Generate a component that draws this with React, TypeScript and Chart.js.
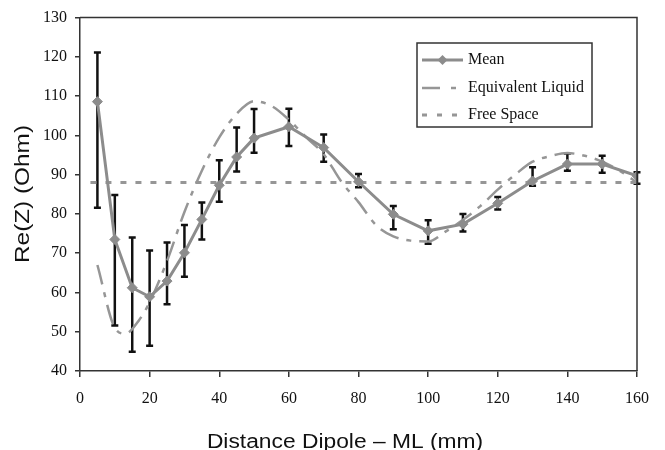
import React, { useEffect, useRef } from "react";
import { Chart, registerables } from "chart.js";

Chart.register(...registerables);

const distances = [5, 10, 15, 20, 25, 30, 35, 40, 45, 50, 60, 70, 80, 90, 100, 110, 120, 130, 140, 150, 160];
const meanValues = [108.6, 73.5, 61.2, 58.9, 62.9, 70.1, 78.6, 87.3, 94.5, 99.3, 102.2, 96.9, 88.2, 79.9, 75.7, 77.4, 82.7, 88.4, 92.7, 92.7, 89.7];
const errorHigh = [121.1, 84.8, 74.0, 70.7, 72.7, 77.2, 82.9, 93.7, 102.0, 106.7, 106.8, 100.2, 90.2, 82.0, 78.4, 80.0, 84.3, 91.9, 95.4, 94.8, 90.6];
const errorLow = [81.6, 51.6, 44.9, 46.4, 57.0, 64.0, 73.5, 83.1, 90.8, 95.6, 97.3, 93.3, 86.8, 76.1, 72.4, 75.5, 81.1, 87.2, 91.0, 90.5, 87.7];

const liquidDistances = [5, 10, 13, 17, 20, 25, 30, 35, 40, 45, 50, 55, 60, 65, 70, 75, 80, 85, 90, 95, 100, 105, 110, 115, 120, 125, 130, 135, 140, 145, 150, 155, 160];
const liquidValues = [67, 51, 49.5, 53, 57.5, 68, 80.5, 91, 99.5, 105.5, 108.7, 107.5, 104, 99.5, 95.2, 88.3, 83, 77.2, 74.3, 73.2, 73.0, 75.5, 78.5, 82, 86.2, 90, 93.3, 94.7, 95.5, 94.8, 93.3, 91, 88];

const freeSpaceDistances = [3, 160];
const freeSpaceValues = [88, 88];

const xTicks = [0, 20, 40, 60, 80, 100, 120, 140, 160];
const yTicks = [40, 50, 60, 70, 80, 90, 100, 110, 120, 130];

const legendLabels = ["Mean", "Equivalent Liquid", "Free Space"];
const xTitle = "Distance Dipole \u2013 ML (mm)";
const yTitle = "Re(Z) (Ohm)";

const GRAY = "rgb(140,140,140)";
const LIGHT = "rgb(150,150,150)";
const DARK = "#333";
const SERIF = "'Liberation Serif', 'Times New Roman', serif";
const SANS = "'Liberation Sans', Arial, sans-serif";

const extrasPlugin = {
  id: "extras",
  beforeDatasetsDraw(chart: any) {
    const ctx = chart.ctx;
    const xs = chart.scales.x;
    const ys = chart.scales.y;
    ctx.save();
    ctx.strokeStyle = "#111";
    for (let i = 0; i < distances.length; i++) {
      const px = xs.getPixelForValue(distances[i]);
      const top = ys.getPixelForValue(errorHigh[i]);
      const bot = ys.getPixelForValue(errorLow[i]);
      ctx.lineWidth = 2.5;
      ctx.beginPath();
      ctx.moveTo(px, top);
      ctx.lineTo(px, bot);
      ctx.stroke();
      ctx.beginPath();
      ctx.moveTo(px - 3.5, top);
      ctx.lineTo(px + 3.5, top);
      ctx.moveTo(px - 3.5, bot);
      ctx.lineTo(px + 3.5, bot);
      ctx.stroke();
    }
    ctx.restore();
  },
  afterDraw(chart: any) {
    const ctx = chart.ctx;
    const a = chart.chartArea;
    ctx.save();
    ctx.strokeStyle = DARK;
    ctx.lineWidth = 1.5;
    ctx.beginPath();
    ctx.moveTo(a.left, a.top);
    ctx.lineTo(a.right, a.top);
    ctx.lineTo(a.right, a.bottom);
    ctx.stroke();

    const lx = 417, ly = 43, lw = 175, lh = 84;
    ctx.fillStyle = "#fff";
    ctx.fillRect(lx, ly, lw, lh);
    ctx.strokeStyle = DARK;
    ctx.lineWidth = 1.5;
    ctx.strokeRect(lx, ly, lw, lh);
    const rows = [60, 88, 115];
    const x0 = 422, x1 = 463;
    ctx.strokeStyle = GRAY;
    ctx.lineWidth = 3;
    ctx.setLineDash([]);
    ctx.beginPath();
    ctx.moveTo(x0, rows[0]);
    ctx.lineTo(x1, rows[0]);
    ctx.stroke();
    ctx.fillStyle = GRAY;
    const cx = (x0 + x1) / 2;
    ctx.beginPath();
    ctx.moveTo(cx, rows[0] - 5);
    ctx.lineTo(cx + 5, rows[0]);
    ctx.lineTo(cx, rows[0] + 5);
    ctx.lineTo(cx - 5, rows[0]);
    ctx.closePath();
    ctx.fill();
    ctx.strokeStyle = LIGHT;
    ctx.lineWidth = 2.5;
    ctx.setLineDash([18, 11, 5, 11]);
    ctx.beginPath();
    ctx.moveTo(x0, rows[1]);
    ctx.lineTo(x1, rows[1]);
    ctx.stroke();
    ctx.setLineDash([5, 10]);
    ctx.lineWidth = 3;
    ctx.beginPath();
    ctx.moveTo(x0, rows[2]);
    ctx.lineTo(x1, rows[2]);
    ctx.stroke();
    ctx.setLineDash([]);
    ctx.fillStyle = "#111";
    ctx.font = `16px ${SERIF}`;
    ctx.textBaseline = "middle";
    ctx.textAlign = "left";
    for (let i = 0; i < legendLabels.length; i++) {
      ctx.fillText(legendLabels[i], 468, rows[i]);
    }

    ctx.fillStyle = "#111";
    ctx.textAlign = "center";
    ctx.textBaseline = "middle";
    ctx.save();
    ctx.font = `20px ${SANS}`;
    ctx.translate(345, 442);
    ctx.scale(1.14, 1);
    ctx.fillText(xTitle, 0, 0);
    ctx.restore();
    ctx.save();
    ctx.font = `21px ${SANS}`;
    ctx.translate(23, 194);
    ctx.rotate(-Math.PI / 2);
    ctx.scale(1.16, 1);
    ctx.fillText(yTitle, 0, 0);
    ctx.restore();
    ctx.restore();
  },
};

export default function App() {
  const ref = useRef<HTMLCanvasElement | null>(null);
  useEffect(() => {
    if (!ref.current) return;
    const chart = new Chart(ref.current, {
      type: "line",
      data: {
        datasets: [
          {
            label: legendLabels[0],
            data: distances.map((d, i) => ({ x: d, y: meanValues[i] })),
            borderColor: GRAY,
            backgroundColor: GRAY,
            borderWidth: 3,
            pointStyle: "rectRot",
            pointRadius: 5,
            pointBorderWidth: 1,
            pointBackgroundColor: GRAY,
            pointBorderColor: GRAY,
            tension: 0,
            order: 0,
          },
          {
            label: legendLabels[1],
            data: liquidDistances.map((d, i) => ({ x: d, y: liquidValues[i] })),
            borderColor: LIGHT,
            borderWidth: 2.5,
            borderDash: [20, 8, 5, 8],
            pointRadius: 0,
            cubicInterpolationMode: "monotone",
            order: 1,
          },
          {
            label: legendLabels[2],
            data: freeSpaceDistances.map((d, i) => ({ x: d, y: freeSpaceValues[i] })),
            borderColor: LIGHT,
            borderWidth: 3,
            borderDash: [6, 9],
            pointRadius: 0,
            order: 2,
          },
        ],
      },
      options: {
        animation: false,
        responsive: false,
        devicePixelRatio: 1,
        layout: { padding: { left: 0, top: 17, right: 28, bottom: 0 } },
        plugins: {
          legend: { display: false },
          tooltip: { enabled: false },
          title: { display: false },
        },
        scales: {
          x: {
            type: "linear",
            min: 0,
            max: 160,
            afterBuildTicks: (s: any) => {
              s.ticks = xTicks.map((v) => ({ value: v }));
            },
            afterFit: (s: any) => {
              s.height = 79;
            },
            grid: {
              drawOnChartArea: false,
              drawTicks: true,
              tickLength: 6,
              color: DARK,
              lineWidth: 1.5,
            },
            border: { display: true, color: DARK, width: 1.5 },
            ticks: {
              padding: 12,
              color: "#111",
              font: { family: SERIF, size: 16 },
              maxRotation: 0,
            },
          },
          y: {
            type: "linear",
            min: 40,
            max: 130,
            afterBuildTicks: (s: any) => {
              s.ticks = yTicks.map((v) => ({ value: v }));
            },
            afterFit: (s: any) => {
              s.width = 80;
            },
            grid: {
              drawOnChartArea: false,
              drawTicks: true,
              tickLength: 5,
              color: DARK,
              lineWidth: 1.5,
            },
            border: { display: true, color: DARK, width: 1.5 },
            ticks: {
              padding: 8,
              color: "#111",
              font: { family: SERIF, size: 16 },
            },
          },
        },
      },
      plugins: [extrasPlugin],
    } as any);
    return () => chart.destroy();
  }, []);
  return (
    <div style={{ position: "absolute", left: 0, top: 0, width: 665, height: 450, background: "#fff" }}>
      <canvas ref={ref} width={665} height={450} style={{ width: 665, height: 450 }} />
    </div>
  );
}
